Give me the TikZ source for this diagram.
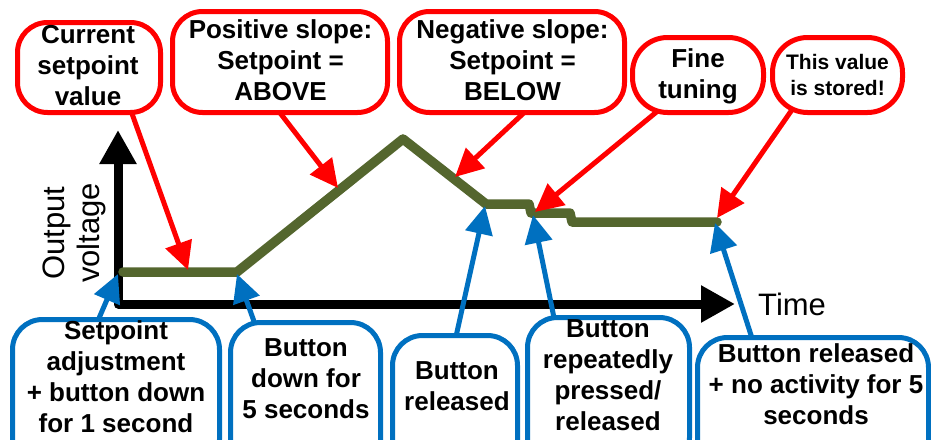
\documentclass[tikz,border=0pt]{standalone}
\usepackage{fontspec}
\setmainfont{Liberation Sans}
\usetikzlibrary{arrows.meta,backgrounds}
\definecolor{cred}{RGB}{255,0,0}
\definecolor{cblue}{RGB}{0,112,192}
\definecolor{cgreen}{RGB}{84,102,46}
\tikzset{
  redbox/.style={draw=cred, line width=5pt, fill=white, rounded corners=30pt, inner sep=0pt},
  bluebox/.style={draw=cblue, line width=5pt, fill=white, rounded corners=30pt, inner sep=0pt, minimum height=150pt},
  lbl/.style={font=\bfseries\fontsize{26}{31}\selectfont, align=center, inner sep=0pt},
  smalllbl/.style={font=\bfseries\fontsize{21}{26}\selectfont, align=center, inner sep=0pt},
  axislbl/.style={font=\fontsize{31}{35}\selectfont, align=center, inner sep=0pt},
  redarr/.style={draw=cred, line width=5pt, -{Triangle[length=28pt,width=27pt]}},
  bluearr/.style={draw=cblue, line width=5pt, -{Triangle[length=28pt,width=27pt]}},
  axisline/.style={line width=9pt, line join=round, {Triangle[length=34pt,width=35pt]}-{Triangle[length=34pt,width=35pt]}},
  curve/.style={draw=cgreen, line width=9.5pt, line join=round, line cap=round},
}
\begin{document}
\begin{tikzpicture}[x=1pt,y=-1pt]
\useasboundingbox (0,0) rectangle (931,439);
\clip (0,0) rectangle (931,439);

% red boxes
\node[redbox, minimum width=143pt, minimum height=90pt] (R1) at (89,67.5) {};
\node[redbox, minimum width=215pt, minimum height=101pt] (R2) at (280,62) {};
\node[redbox, minimum width=225pt, minimum height=101pt] (R3) at (512,62) {};
\node[redbox, rounded corners=35pt, minimum width=131pt, minimum height=75pt] (R4) at (698,75) {};
\node[redbox, rounded corners=35pt, minimum width=130pt, minimum height=75pt] (R5) at (837.5,75) {};

\node[lbl] (R1t) at (88,65.2) {Current\\setpoint\\value};
\node[lbl] (R2t) at (280.5,60.7) {Positive slope:\\Setpoint =\\ABOVE};
\node[lbl] (R3t) at (512.5,60.7) {Negative slope:\\Setpoint =\\BELOW};
\node[lbl] (R4t) at (698,76.75) {Fine\\tuning};
\node[smalllbl] (R5t) at (837.5,74.5) {This value\\is stored!};

% blue boxes
\node[bluebox, minimum width=207pt] (B1) at (116,394.5) {};
\node[bluebox, minimum width=150pt] (B2) at (305.5,397.5) {};
\node[bluebox, minimum width=125pt] (B3) at (455,410.5) {};
\node[bluebox, minimum width=162pt] (B4) at (608.5,392.5) {};
\node[bluebox, minimum width=231pt] (B5) at (813,412.5) {};

\node[lbl] (B1t) at (116,377.2) {Setpoint\\adjustment\\+ button down\\for 1 second};
\node[lbl] (B2t) at (306,378.5) {Button\\down for\\5 seconds};
\node[lbl] (B3t) at (457,386.5) {Button\\released};
\node[lbl] (B4t) at (608,374.9) {Button\\repeatedly\\pressed/\\released};
\node[lbl] (B5t) at (816,384.7) {Button released\\+ no activity for 5\\seconds};

% axis labels
\node[axislbl, anchor=base west] (time) at (758,315) {Time};
\node[axislbl, rotate=90] (volt) at (74,233) {Output\\voltage};

% axis and curve points
\coordinate (ytop) at (118,130);
\coordinate (org) at (118,304);
\coordinate (xend) at (735,304);
\coordinate (g0) at (123,272);
\coordinate (g1) at (237,272);
\coordinate (g2) at (403,139);
\coordinate (g3) at (486,204);
\coordinate (g4) at (529,204);
\coordinate (g5) at (531,213);
\coordinate (g6) at (570,213);
\coordinate (g7) at (572,222);
\coordinate (g8) at (717,222);

% arrow targets
\coordinate (t1) at (188,270);
\coordinate (t2) at (338,188);
\coordinate (t3) at (455,177);
\coordinate (t4) at (535,212);
\coordinate (t5) at (717,218);
\coordinate (u1) at (118,274);
\coordinate (u2) at (237,274);
\coordinate (u3) at (485,206);
\coordinate (u4) at (533,215);
\coordinate (u5) at (715,223);

\begin{pgfonlayer}{background}
  \draw[axisline] (ytop) -- (org) -- (xend);
  \draw[curve] (g0) -- (g1) -- (g2) -- (g3) -- (g4) -- (g5) -- (g6) -- (g7) -- (g8);

  \draw[redarr] ([shift={(39,-12.5)}]R1.south) -- (t1);
  \draw[redarr] ([shift={(-8,-12.5)}]R2.south) -- (t2);
  \draw[redarr] ([shift={(23,-12.5)}]R3.south) -- (t3);
  \draw[redarr] ([shift={(-30,-12.5)}]R4.south) -- (t4);
  \draw[redarr] ([shift={(-40.5,-12.5)}]R5.south) -- (t5);

  \draw[bluearr] ([shift={(-21,10.5)}]B1.north) -- (u1);
  \draw[bluearr] ([shift={(-47.5,12.5)}]B2.north) -- (u2);
  \draw[bluearr] ([shift={(-1,12.5)}]B3.north) -- (u3);
  \draw[bluearr] ([shift={(-52.5,12.5)}]B4.north) -- (u4);
  \draw[bluearr] ([shift={(-58,12.5)}]B5.north) -- (u5);
\end{pgfonlayer}
\end{tikzpicture}
\end{document}
